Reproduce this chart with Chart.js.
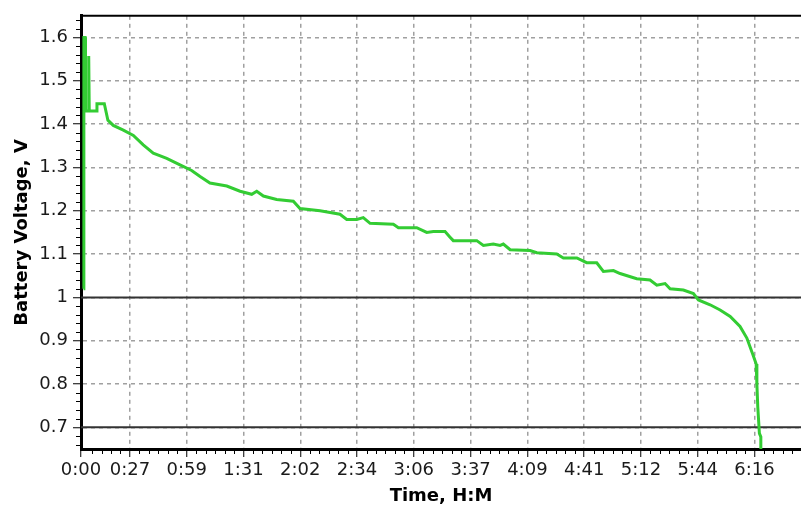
<!DOCTYPE html>
<html>
<head>
<meta charset="utf-8">
<script src="https://cdn.jsdelivr.net/npm/chart.js@4/dist/chart.umd.min.js"></script>
<style>
  html, body { margin: 0; padding: 0; background: #fff; }
  canvas { display: block; }
</style>
</head>
<body>
<canvas id="c" width="801" height="508"></canvas>
<script>
// Discharge run: elapsed time (minutes) and measured cell voltage (V)
const timeMin = [
  1.4, 1.6, 2.3, 2.5, 4.0, 4.3, 4.6, 8.6, 8.9, 13.0, 15.0, 18.0, 23.6, 29.2, 34.7,
  40.3, 47.8, 55.2, 61.7, 66.4, 71.9, 81.3, 88.7, 95.2, 98.0, 101.7, 109.1, 118.4,
  122.1, 133.3, 138.9, 144.4, 148.2, 153.8, 157.4, 161.2, 174.2, 177.0, 187.2,
  192.8, 196.5, 203.0, 205.8, 207.6, 220.7, 224.4, 229.9, 233.7, 235.5, 239.3,
  250.4, 254.2, 265.3, 269.0, 276.5, 282.0, 287.6, 291.3, 296.9, 300.6, 309.9,
  317.3, 321.1, 325.7, 328.5, 335.9, 341.5, 344.3, 350.8, 356.4, 362.0, 367.5,
  371.3, 374.9, 376.5, 376.9, 377.4, 378.3, 379.1, 379.1
];
const voltage = [
  1.02, 1.60, 1.60, 1.43, 1.43, 1.557, 1.43, 1.43, 1.447, 1.447, 1.409, 1.397, 1.386, 1.374, 1.352,
  1.333, 1.321, 1.306, 1.293, 1.279, 1.264, 1.257, 1.245, 1.238, 1.245, 1.234, 1.226, 1.222,
  1.205, 1.200, 1.196, 1.192, 1.180, 1.180, 1.184, 1.171, 1.169, 1.161, 1.161,
  1.150, 1.152, 1.152, 1.139, 1.131, 1.131, 1.120, 1.123, 1.120, 1.123, 1.110,
  1.108, 1.103, 1.100, 1.091, 1.091, 1.080, 1.080, 1.060, 1.062, 1.055, 1.043,
  1.040, 1.028, 1.032, 1.020, 1.017, 1.009, 0.994, 0.983, 0.971, 0.956, 0.933,
  0.906, 0.865, 0.846, 0.800, 0.747, 0.686, 0.678, 0.650
];

// Cut-off reference levels (V)
const refLevels = [1.0, 0.7];

// Axis ticks
const xTickValues = [0, 27.3, 58.96, 90.62, 122.28, 153.94, 185.6, 217.26, 248.92, 280.58, 312.24, 343.9, 375.56];
const xTickLabels = ['0:00', '0:27', '0:59', '1:31', '2:02', '2:34', '3:06', '3:37', '4:09', '4:41', '5:12', '5:44', '6:16'];
const yTickValues = [0.7, 0.8, 0.9, 1.0, 1.1, 1.2, 1.3, 1.4, 1.5, 1.6];
const yTickLabels = ['0.7', '0.8', '0.9', '1', '1.1', '1.2', '1.3', '1.4', '1.5', '1.6'];

const X_MIN = 0, X_MAX = 401.5;
const Y_MIN = 0.65, Y_MAX = 1.65;

const FONT = 'DejaVu Sans';

// Minor tick marks on both axes and the top frame line
const axisDecor = {
  id: 'axisDecor',
  afterDraw(chart) {
    const { ctx, chartArea: a, scales: { x, y } } = chart;
    ctx.save();
    ctx.strokeStyle = '#000';
    ctx.lineWidth = 1;
    ctx.beginPath();
    // y: five subdivisions per major step
    for (let k = Math.ceil(Y_MIN / 0.02); k * 0.02 <= Y_MAX + 1e-9; k++) {
      if (k % 5 === 0) continue;
      const py = Math.round(y.getPixelForValue(k * 0.02)) + 0.5;
      ctx.moveTo(a.left - 5, py);
      ctx.lineTo(a.left, py);
    }
    // x: six subdivisions per major step
    const step = (xTickValues[xTickValues.length - 1] - xTickValues[1]) / (xTickValues.length - 2) / 6;
    const minors = [];
    for (let v = xTickValues[1] - step; v > 1; v -= step) minors.push(v);
    for (let i = 1; i < xTickValues.length - 1; i++) {
      for (let j = 1; j < 6; j++) minors.push(xTickValues[i] + j * step);
    }
    for (let v = xTickValues[xTickValues.length - 1] + step; v < X_MAX; v += step) {
      const r = Math.round((v - xTickValues[xTickValues.length - 1]) / step);
      if (r % 6 !== 0) minors.push(v);
    }
    minors.forEach(v => {
      const px = Math.round(x.getPixelForValue(v)) + 0.5;
      ctx.moveTo(px, a.bottom);
      ctx.lineTo(px, a.bottom + 5);
    });
    ctx.stroke();
    // top frame
    ctx.lineWidth = 2;
    ctx.beginPath();
    ctx.moveTo(a.left, a.top);
    ctx.lineTo(a.right, a.top);
    ctx.stroke();
    ctx.restore();
  }
};

new Chart(document.getElementById('c'), {
  type: 'line',
  data: {
    datasets: [
      {
        label: 'Battery Voltage',
        data: timeMin.map((t, i) => ({ x: t, y: voltage[i] })),
        borderColor: '#33cc33',
        borderWidth: 3,
        pointRadius: 0,
        tension: 0,
        fill: false,
        order: 0
      },
      ...refLevels.map(v => ({
        label: 'Level ' + v,
        data: [{ x: X_MIN, y: v }, { x: X_MAX, y: v }],
        borderColor: '#333333',
        borderWidth: 2,
        pointRadius: 0,
        fill: false,
        order: 1
      }))
    ]
  },
  options: {
    responsive: false,
    animation: false,
    devicePixelRatio: 1,
    layout: { padding: { top: 11, right: 0, left: 0, bottom: 0 } },
    plugins: { legend: { display: false }, tooltip: { enabled: false } },
    scales: {
      x: {
        type: 'linear',
        min: X_MIN,
        max: X_MAX,
        afterBuildTicks: s => { s.ticks = xTickValues.map(v => ({ value: v })); },
        afterFit: s => { s.height = 59; },
        ticks: {
          autoSkip: false,
          maxRotation: 0,
          color: '#1a1a1a',
          padding: 3,
          font: { family: FONT, size: 18 },
          callback: (v, i) => xTickLabels[i]
        },
        grid: { color: '#a0a0a0', lineWidth: 1.5, tickColor: '#000', tickLength: 8, tickWidth: 1 },
        border: { color: '#000', width: 3, dash: [4, 4] },
        title: {
          display: true,
          text: 'Time, H:M',
          color: '#000',
          font: { family: FONT, size: 18, weight: 'bold' },
          padding: { top: 0, bottom: 1 }
        }
      },
      y: {
        type: 'linear',
        min: Y_MIN,
        max: Y_MAX,
        afterBuildTicks: s => { s.ticks = yTickValues.map(v => ({ value: v })); },
        afterFit: s => { s.width = 81; },
        ticks: {
          color: '#1a1a1a',
          padding: 5,
          font: { family: FONT, size: 18 },
          callback: (v, i) => yTickLabels[i]
        },
        grid: { color: '#a0a0a0', lineWidth: 1.5, tickColor: '#000', tickLength: 8, tickWidth: 1 },
        border: { color: '#000', width: 3, dash: [4, 4] },
        title: {
          display: true,
          text: 'Battery Voltage, V',
          color: '#000',
          font: { family: FONT, size: 18, weight: 'bold' },
          padding: { top: 12, bottom: 0 }
        }
      }
    }
  },
  plugins: [axisDecor]
});
</script>
</body>
</html>
